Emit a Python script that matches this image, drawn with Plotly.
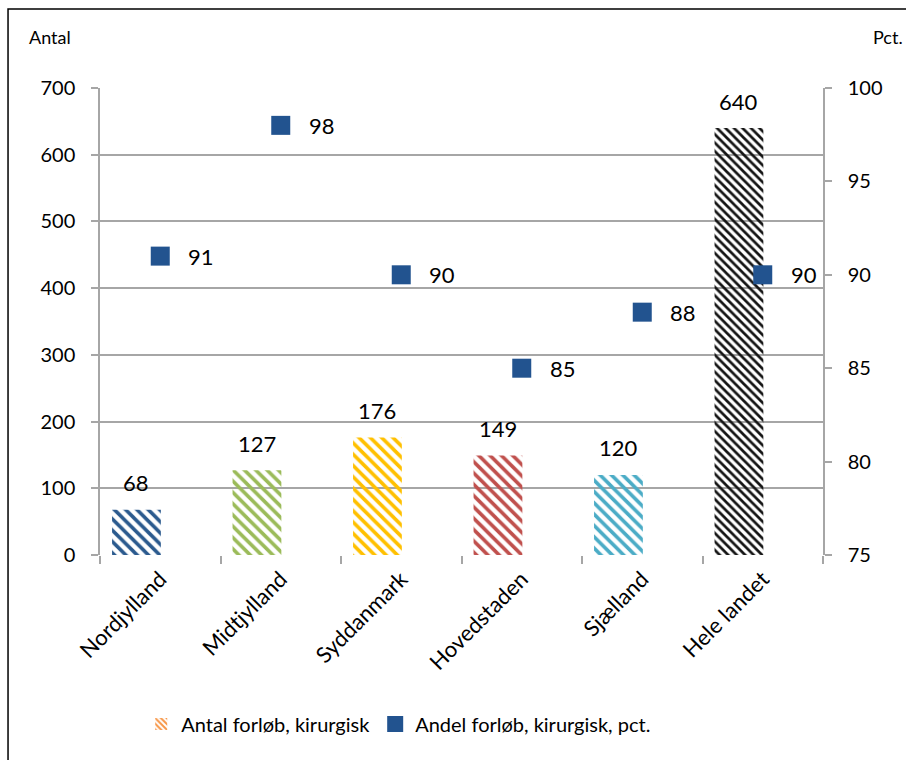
import plotly.graph_objects as go

# Data
regions = ["Nordjylland", "Midtjylland", "Syddanmark", "Hovedstaden", "Sjælland", "Hele landet"]
antal = [68, 127, 176, 149, 120, 640]
andel_pct = [91, 98, 90, 85, 88, 90]
bar_colors = ["#2B5A8E", "#9BBB59", "#FFC000", "#C0504D", "#4BACC6", "#141414"]
stripe_sizes = [8, 8, 8, 8, 8, 6]
marker_color = "#22538F"
legend_bar_color = "#F79646"

FONT = "Lato"
BAR_OFFSET = -0.40
BAR_WIDTH = 0.405

fig = go.Figure()

# Bars: count of surgical courses (left axis)
fig.add_trace(go.Bar(
    x=regions, y=antal,
    offset=BAR_OFFSET, width=BAR_WIDTH,
    marker=dict(
        color=bar_colors,
        line=dict(width=0),
        pattern=dict(shape="\\", fgcolor=bar_colors, bgcolor="white",
                     size=stripe_sizes, solidity=0.45, fillmode="replace"),
    ),
    showlegend=False,
))

# Legend entry for the bar series
fig.add_trace(go.Bar(
    x=[None], y=[None],
    name="Antal forløb, kirurgisk",
    marker=dict(
        color=legend_bar_color, line=dict(width=0),
        pattern=dict(shape="\\", fgcolor=legend_bar_color, bgcolor="white",
                     size=5, solidity=0.5, fillmode="replace"),
    ),
))

# Markers: share of surgical courses in percent (right axis)
fig.add_trace(go.Scatter(
    x=regions, y=andel_pct, yaxis="y2",
    mode="markers",
    marker=dict(symbol="square", size=19, color=marker_color, line=dict(width=0)),
    name="Andel forløb, kirurgisk, pct.",
))

annotations = []
for i, (v, p) in enumerate(zip(antal, andel_pct)):
    annotations.append(dict(
        x=i + BAR_OFFSET + BAR_WIDTH / 2, y=v, xref="x", yref="y",
        text=str(v), showarrow=False, yanchor="middle", yshift=27,
        font=dict(family=FONT, size=22, color="black"),
    ))
    annotations.append(dict(
        x=i, y=p, xref="x", yref="y2",
        text=str(p), showarrow=False, xanchor="left", yanchor="middle", xshift=26,
        font=dict(family=FONT, size=22, color="black"),
    ))

annotations.append(dict(x=-0.0698, y=1.109, xref="paper", yref="paper", text="Antal",
                        showarrow=False, xanchor="center", yanchor="middle",
                        font=dict(family=FONT, size=18, color="black")))
annotations.append(dict(x=1.1134, y=1.109, xref="paper", yref="paper", text="Pct.",
                        showarrow=False, xanchor="right", yanchor="middle",
                        font=dict(family=FONT, size=18, color="black")))

grid_color = "#A6A6A6"

fig.update_layout(
    width=906, height=760,
    margin=dict(l=100, r=83, t=88, b=205),
    paper_bgcolor="white", plot_bgcolor="white",
    barmode="overlay",
    font=dict(family=FONT, size=20, color="black"),
    xaxis=dict(
        type="category", tickangle=-45, tickson="boundaries",
        ticks="outside", ticklen=8, tickwidth=1.5, tickcolor=grid_color,
        showline=False, showgrid=False, ticklabelstandoff=6,
        tickfont=dict(family=FONT, size=22, color="black"),
    ),
    yaxis=dict(
        range=[0, 700], dtick=100, showgrid=True, gridcolor=grid_color, gridwidth=1.5,
        showline=True, linecolor=grid_color, linewidth=1.5,
        ticks="outside", ticklen=7, tickwidth=1.5, tickcolor=grid_color,
        ticklabelstandoff=12, zeroline=False,
        tickfont=dict(family=FONT, size=20, color="black"),
    ),
    yaxis2=dict(
        range=[75, 100], dtick=5, overlaying="y", side="right",
        showgrid=False, zeroline=False,
        showline=True, linecolor=grid_color, linewidth=1.5,
        ticks="outside", ticklen=7, tickwidth=1.5, tickcolor=grid_color,
        ticklabelstandoff=12,
        tickfont=dict(family=FONT, size=20, color="black"),
    ),
    legend=dict(
        orientation="h", x=0.057, xanchor="left", y=-0.362, yanchor="middle",
        font=dict(family=FONT, size=20, color="black"),
        bgcolor="rgba(0,0,0,0)",
    ),
    annotations=annotations,
    shapes=[dict(type="rect", xref="paper", yref="paper",
                 x0=-0.1272, x1=1.2, y0=-0.5, y1=1.169,
                 line=dict(color="black", width=1.5), fillcolor="rgba(0,0,0,0)",
                 layer="below")],
)

fig.write_html("out.html")
